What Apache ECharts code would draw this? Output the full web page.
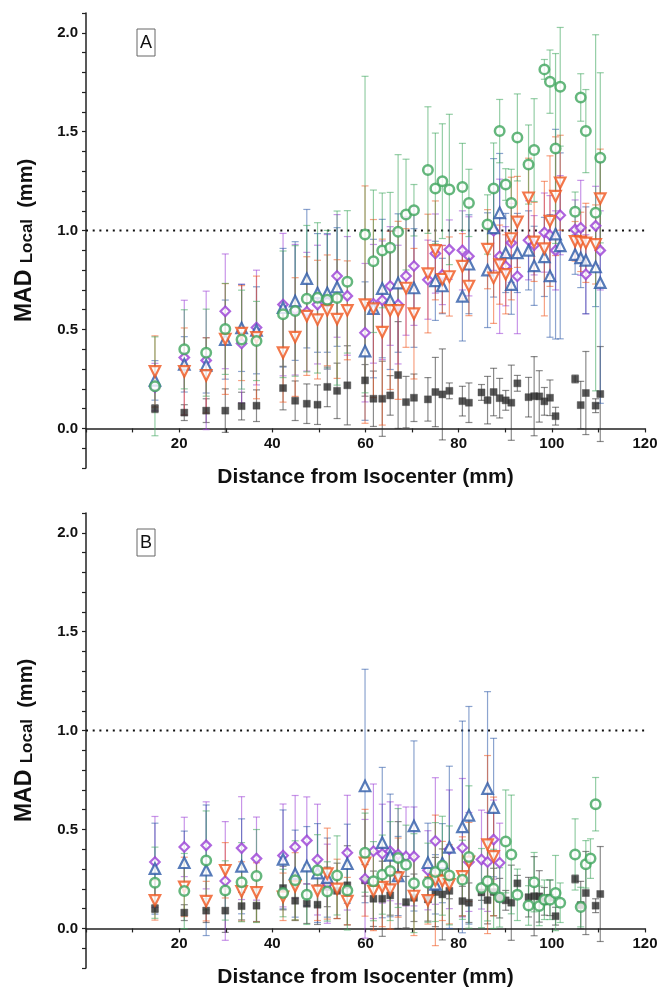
<!DOCTYPE html>
<html><head><meta charset="utf-8">
<script src="https://cdn.jsdelivr.net/npm/echarts@6/dist/echarts.min.js"></script>
<style>html,body{margin:0;padding:0;background:#fff;}#c{width:658px;height:988px;}</style>
</head><body><div id="c"></div><script>
// Distance from isocenter (mm), shared x positions
const distance = [14.8, 21.1, 25.8, 29.9, 33.4, 36.6, 42.3, 44.9, 47.4, 49.7,
 51.8, 53.9, 56.1, 59.9, 61.7, 63.6, 65.3, 67.0, 68.7, 70.4,
 73.4, 75.0, 76.5, 78.0, 80.8, 82.2, 84.9, 86.2, 87.5, 88.8,
 90.1, 91.3, 92.6, 95.0, 96.2, 97.3, 98.4, 99.6, 100.8, 101.8,
 105.0, 106.2, 107.3, 108.3, 109.4, 110.4];

// Black squares (both panels)
const blackY = [0.10, 0.08, 0.09, 0.09, 0.113, 0.115, 0.204, 0.14, 0.125, 0.12,
 0.21, 0.19, 0.218, 0.243, 0.15, 0.15, 0.167, 0.27, 0.133, 0.155,
 0.147, 0.184, 0.172, 0.19, 0.138, 0.13, 0.182, 0.143, 0.184, 0.153,
 0.142, 0.13, 0.228, 0.158, 0.163, 0.162, 0.137, 0.155, 0.062, null,
 0.25, 0.118, 0.179, null, 0.115, 0.174];
const blackErr = [0.02, 0.04, 0.06, 0.11, 0.07, 0.08, 0.11, 0.10, 0.10, 0.10,
 0.10, 0.14, 0.20, 0.08, 0.14, 0.19, 0.10, 0.27, 0.13, 0.12,
 0.11, 0.175, 0.23, 0.04, 0.075, 0.10, 0.04, 0.12, 0.12, 0.10,
 0.05, 0.19, 0.04, 0.10, 0.20, 0.13, 0.07, 0.09, 0.045, null,
 0.02, 0.12, 0.21, null, 0.035, 0.24];

// Panel A
const aOrangeY = [0.288, 0.288, 0.268, 0.452, 0.482, 0.46, 0.383, 0.462, 0.568, 0.55,
 0.597, 0.553, 0.597, 0.626, 0.606, 0.487, 0.597, 0.597, 0.71, 0.58,
 0.783, 0.90, 0.754, 0.768, 0.82, 0.72, null, 0.906, 0.761, 0.828,
 0.779, 0.96, 1.044, 1.166, 0.943, null, 0.909, 1.048, 1.174, 1.242,
 0.946, 0.943, 0.938, null, 0.93, 1.162];
const aOrangeErr = [0.18, 0.22, 0.19, 0.28, 0.24, 0.31, 0.25, 0.30, 0.30, 0.30,
 0.28, 0.30, 0.25, 0.60, 0.45, 0.47, 0.40, 0.45, 0.30, 0.33,
 0.30, 0.25, 0.17, 0.20, 0.165, 0.15, null, 0.20, 0.23, 0.20,
 0.20, 0.31, 0.23, 0.20, 0.20, null, 0.34, 0.33, 0.30, 0.24,
 0.10, 0.15, 0.20, null, 0.20, 0.25];
const aBlueY = [0.243, 0.324, 0.319, 0.449, 0.508, 0.496, 0.61, 0.644, 0.757, 0.685,
 0.685, 0.715, null, 0.391, 0.606, 0.707, 0.648, 0.735, null, 0.71,
 null, 0.746, 0.72, null, 0.668, 0.83, null, 0.80, 1.014, 1.09,
 0.887, 0.727, 0.887, 0.90, 0.822, null, 0.867, 0.771, 0.982, 0.923,
 0.879, 0.862, 0.85, null, 0.816, 0.737];
const aBlueErr = [0.10, 0.14, 0.14, 0.20, 0.22, 0.22, 0.30, 0.30, 0.35, 0.30,
 0.30, 0.30, null, 0.35, 0.35, 0.35, 0.35, 0.35, null, 0.30,
 null, 0.20, 0.14, null, 0.226, 0.25, null, 0.29, 0.35, 0.30,
 0.20, 0.15, 0.20, 0.20, 0.20, null, 0.20, 0.31, 0.53, 0.47,
 0.10, 0.15, 0.27, null, 0.20, 0.61];
const aPurpleY = [0.209, 0.358, 0.344, 0.592, 0.429, 0.51, 0.626, 0.60, 0.59, 0.626,
 0.64, 0.771, 0.67, 0.484, 0.63, 0.648, 0.72, 0.626, 0.771, 0.821,
 0.752, 0.884, 0.776, 0.904, 0.90, 0.87, null, null, 0.999, 0.87,
 0.82, 0.938, 0.769, 0.951, 0.926, null, 0.99, 0.977, 0.90, 1.078,
 1.005, 1.014, 0.779, null, 1.024, 0.90];
const aPurpleErr = [0.12, 0.29, 0.35, 0.29, 0.30, 0.29, 0.36, 0.33, 0.30, 0.30,
 0.34, 0.31, 0.30, 0.35, 0.30, 0.30, 0.30, 0.30, 0.30, 0.30,
 0.20, 0.20, 0.15, 0.15, 0.20, 0.20, null, null, 0.20, 0.39,
 0.20, 0.20, 0.29, 0.20, 0.15, null, 0.20, 0.20, 0.20, 0.20,
 0.15, 0.24, 0.20, null, 0.20, 0.20];
const aGreenY = [0.213, 0.40, 0.383, 0.503, 0.449, 0.442, 0.577, 0.594, 0.656, 0.66,
 0.651, 0.659, 0.741, 0.98, 0.845, 0.90, 0.913, 0.994, 1.081, 1.103,
 1.306, 1.213, 1.25, 1.208, 1.221, 1.14, null, 1.031, 1.213, 1.503,
 1.233, 1.14, 1.471, 1.334, 1.407, null, 1.815, 1.753, 1.415, 1.727,
 1.095, 1.673, 1.503, null, 1.09, 1.368];
const aGreenErr = [0.25, 0.20, 0.22, 0.23, 0.25, 0.20, 0.32, 0.33, 0.37, 0.38,
 0.35, 0.44, 0.36, 0.80, 0.36, 0.29, 0.28, 0.39, 0.28, 0.13,
 0.32, 0.28, 0.29, 0.38, 0.22, 0.17, null, 0.15, 0.23, 0.16,
 0.08, 0.17, 0.22, 0.20, 0.26, null, 0.05, 0.16, 0.48, 0.30,
 0.10, 0.12, 0.21, null, 0.90, 0.43];

// Panel B
const bOrangeY = [0.142, 0.21, 0.138, 0.294, 0.187, 0.182, 0.16, 0.213, null, 0.19,
 0.277, 0.20, 0.138, 0.332, 0.189, 0.209, 0.196, 0.257, null, 0.164,
 0.142, 0.243, 0.24, 0.223, 0.263, 0.336, null, 0.424, 0.364];
const bOrangeErr = [0.10, 0.15, 0.10, 0.14, 0.15, 0.15, 0.12, 0.17, null, 0.15,
 0.23, 0.15, 0.12, 0.27, 0.20, 0.20, 0.20, 0.20, null, 0.20,
 0.12, 0.33, 0.20, 0.20, 0.20, 0.20, null, 0.45, 0.30];
const bBlueY = [0.302, 0.332, 0.294, null, 0.314, null, 0.349, 0.277, 0.315, 0.28,
 0.257, null, 0.327, 0.72, null, 0.434, 0.369, 0.265, null, 0.518,
 0.332, 0.223, 0.33, 0.41, 0.513, 0.572, null, 0.707, 0.611];
const bBlueErr = [0.23, 0.16, 0.33, null, 0.24, null, 0.25, 0.22, 0.20, 0.25,
 0.20, null, 0.20, 0.59, null, 0.38, 0.31, 0.20, null, 0.43,
 0.20, 0.15, 0.20, 0.41, 0.535, 0.55, null, 0.49, 0.35];
const bPurpleY = [0.336, 0.412, 0.42, 0.24, 0.406, 0.353, 0.369, 0.412, 0.445, 0.348,
 0.226, null, 0.383, 0.251, 0.39, 0.378, 0.39, 0.374, 0.364, 0.364,
 0.294, 0.442, null, 0.40, 0.408, 0.336, 0.348, 0.336, 0.449, 0.332];
const bPurpleErr = [0.23, 0.15, 0.22, 0.30, 0.26, 0.21, 0.26, 0.26, 0.22, 0.28,
 0.20, null, 0.29, 0.30, 0.34, 0.25, 0.25, 0.25, 0.25, 0.25,
 0.20, 0.32, null, 0.30, 0.35, 0.25, 0.25, 0.25, 0.20, 0.20];
const bGreenY = [0.231, 0.189, 0.344, 0.192, 0.234, 0.265, 0.179, 0.243, 0.17, 0.294,
 0.187, 0.268, 0.192, 0.383, 0.239, 0.272, 0.29, 0.356, 0.322, 0.229,
 0.231, 0.285, 0.317, 0.268, 0.246, 0.361, 0.204, 0.238, 0.20, 0.157,
 0.44, 0.374, 0.17, 0.116, 0.234, 0.114, 0.145, 0.145, 0.179, 0.13,
 0.374, 0.108, 0.324, 0.353, 0.628, null];
const bGreenErr = [0.18, 0.19, 0.25, 0.15, 0.20, 0.235, 0.12, 0.20, 0.15, 0.18,
 0.15, 0.20, 0.20, 0.20, 0.20, 0.20, 0.25, 0.25, 0.20, 0.25,
 0.20, 0.25, 0.25, 0.25, 0.20, 0.36, 0.20, 0.20, 0.20, 0.15,
 0.26, 0.30, 0.13, 0.10, 0.15, 0.10, 0.10, 0.10, 0.19, 0.10,
 0.18, 0.10, 0.12, 0.10, 0.135, null];

const refLevel = [[0, 1.0], [120, 1.0]];
const xTicks = [20, 40, 60, 80, 100, 120];
const yTicks = [0.0, 0.5, 1.0, 1.5, 2.0];
const panelLabels = ['A', 'B'];

const FONT = 'Liberation Sans, Arial, sans-serif';
const COL = {black:'#2b2b2b', orange:'#f0561e', blue:'#2d5aa8', purple:'#9a3ed6', green:'#3ea55c'};
const Y_MIN = -0.2, Y_MAX = 2.1, GRID_H = 455;

function pts(ys, es) {
  const out = [];
  for (let i = 0; i < distance.length; i++) {
    if (ys[i] != null) out.push([distance[i], ys[i], (es && es[i] != null) ? es[i] : 0]);
  }
  return out;
}

function errSeries(ys, es, color, gi) {
  return {
    type: 'custom', xAxisIndex: gi, yAxisIndex: gi, z: 2, silent: true, animation: false,
    encode: {x: 0, y: 1},
    data: pts(ys, es),
    renderItem: function (params, api) {
      const x = api.value(0), y = api.value(1), e = api.value(2);
      const lo = api.coord([x, y - e]), hi = api.coord([x, y + e]);
      const w = 3.5;
      const st = {stroke: color, lineWidth: 1.2, opacity: 0.55};
      return {type: 'group', children: [
        {type: 'line', shape: {x1: lo[0], y1: lo[1], x2: hi[0], y2: hi[1]}, style: st},
        {type: 'line', shape: {x1: lo[0] - w, y1: lo[1], x2: lo[0] + w, y2: lo[1]}, style: st},
        {type: 'line', shape: {x1: hi[0] - w, y1: hi[1], x2: hi[0] + w, y2: hi[1]}, style: st}
      ]};
    }
  };
}

function markSeries(ys, kind, gi) {
  const base = {type: 'scatter', xAxisIndex: gi, yAxisIndex: gi, z: 3, silent: true, animation: false,
    data: pts(ys, null).map(p => [p[0], p[1]])};
  if (kind === 'black') return Object.assign(base, {symbol: 'rect', symbolSize: 7,
    itemStyle: {color: COL.black, borderColor: '#444', borderWidth: 0.5}});
  if (kind === 'orange') return Object.assign(base, {symbol: 'triangle', symbolSize: 10.5, symbolRotate: 180,
    itemStyle: {color: '#fff', borderColor: COL.orange, borderWidth: 2.2}});
  if (kind === 'blue') return Object.assign(base, {symbol: 'triangle', symbolSize: 10.5,
    itemStyle: {color: '#fff', borderColor: COL.blue, borderWidth: 2.2}});
  if (kind === 'purple') return Object.assign(base, {symbol: 'diamond', symbolSize: 9.5,
    itemStyle: {color: '#fff', borderColor: COL.purple, borderWidth: 2.2}});
  return Object.assign(base, {symbol: 'circle', symbolSize: 9.5,
    itemStyle: {color: '#fff', borderColor: COL.green, borderWidth: 2.5}});
}

const panels = [
  [['black', blackY, blackErr], ['purple', aPurpleY, aPurpleErr], ['blue', aBlueY, aBlueErr],
   ['orange', aOrangeY, aOrangeErr], ['green', aGreenY, aGreenErr]],
  [['black', blackY, blackErr], ['purple', bPurpleY, bPurpleErr], ['blue', bBlueY, bBlueErr],
   ['orange', bOrangeY, bOrangeErr], ['green', bGreenY, bGreenErr]]
];

const series = [];
panels.forEach((list, gi) => {
  series.push({type: 'line', xAxisIndex: gi, yAxisIndex: gi, data: refLevel, symbol: 'none', z: 1,
    silent: true, animation: false, lineStyle: {color: '#111', width: 2, type: [2, 4.7]}});
  list.forEach(s => series.push(errSeries(s[1], s[2], COL[s[0]], gi)));
  list.forEach(s => series.push(markSeries(s[1], s[0], gi)));
});

const tops = [13, 513];
const grid = tops.map(t => ({left: 86, top: t, width: 559, height: GRID_H, outerBoundsMode: 'none', containLabel: false}));

// x axis sits at value 0 of the y axis: shift it up from the grid bottom
const zeroShift = -(0 - Y_MIN) / (Y_MAX - Y_MIN) * GRID_H;

const xAxis = tops.map((t, i) => ({
  gridIndex: i, type: 'value', min: 0, max: 120, interval: 10, position: 'bottom', offset: zeroShift,
  axisLine: {onZero: false, lineStyle: {color: '#222', width: 1.5}},
  axisTick: {length: 4, lineStyle: {color: '#222', width: 1.2}},
  splitLine: {show: false},
  axisLabel: {formatter: v => xTicks.indexOf(v) >= 0 ? String(v) : '', fontSize: 15, fontWeight: 'bold',
    color: '#111', margin: 8, fontFamily: FONT},
  name: 'Distance from Isocenter (mm)', nameLocation: 'middle', nameGap: 38,
  nameTextStyle: {fontSize: 21, fontWeight: 'bold', color: '#111', fontFamily: FONT}
}));

const rs = (fs) => ({fontSize: fs, fontWeight: 'bold', color: '#111', fontFamily: FONT, verticalAlign: 'bottom', lineHeight: 26});
const yAxis = tops.map((t, i) => ({
  gridIndex: i, type: 'value', min: Y_MIN, max: Y_MAX, interval: 0.1,
  axisLine: {show: true, onZero: false, lineStyle: {color: '#222', width: 1.5}},
  axisTick: {show: true, length: 4, lineStyle: {color: '#222', width: 1.2}},
  splitLine: {show: false},
  axisLabel: {formatter: v => { const r = Math.round(v * 10) / 10; return yTicks.some(t => Math.abs(t - r) < 1e-6) && Math.abs(v - r) < 1e-6 ? r.toFixed(1) : ''; },
    fontSize: 15, fontWeight: 'bold', color: '#111', margin: 8, fontFamily: FONT},
  name: '{m|MAD }{s|Local}{u|  (mm)}', nameLocation: 'middle', nameGap: 50, nameRotate: 90,
  nameTextStyle: {rich: {m: rs(23), s: rs(17), u: rs(20)}}
}));

const graphic = panelLabels.map((lab, i) => ({
  type: 'group', x: 137, y: tops[i] + 16, children: [
    {type: 'rect', shape: {x: 0, y: 0, width: 18, height: 27}, style: {fill: '#fff', stroke: '#666', lineWidth: 1}},
    {type: 'text', style: {text: lab, x: 9, y: 14, textAlign: 'center', textVerticalAlign: 'middle',
      align: 'center', verticalAlign: 'middle', font: '18px ' + FONT, fill: '#111'}}
  ]
}));

const chart = echarts.init(document.getElementById('c'), null, {renderer: 'canvas'});
chart.setOption({animation: false, backgroundColor: '#fff', grid, xAxis, yAxis, series, graphic});
</script></body></html>
